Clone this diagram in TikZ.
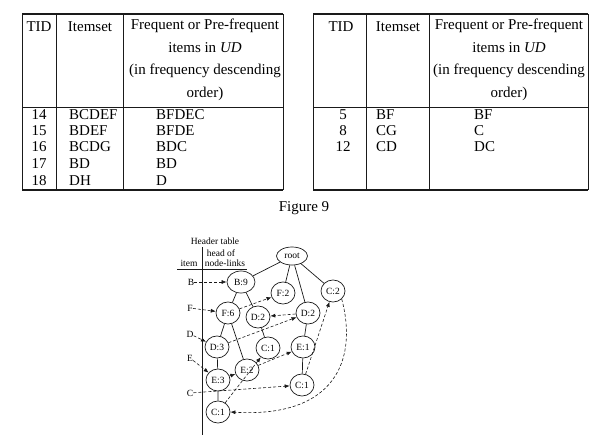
\documentclass[tikz,border=0pt]{standalone}
\usepackage{fontspec}
\setmainfont{Liberation Serif}
\usepackage{tikz}
\usetikzlibrary{arrows.meta,shapes.geometric}
\definecolor{ink}{HTML}{1A1A1A}
\tikzset{
  rulethick/.style={draw=ink,line width=1.6pt},
  rulethin/.style={draw=ink,line width=0.6pt},
  cell/.style={inner sep=0pt,font=\fontsize{15}{18}\selectfont},
  headcell/.style={inner sep=0pt,align=center,font=\fontsize{15}{22.5}\selectfont},
  fpnode/.style={draw=ink,ellipse,line width=0.7pt,minimum width=24pt,
                 minimum height=22pt,inner sep=0pt,fill=white,
                 font=\fontsize{9.5}{10}\selectfont},
  htext/.style={inner sep=0pt,font=\fontsize{9.5}{11}\selectfont},
  treeedge/.style={draw=ink,line width=0.7pt},
  linkarr/.style={-{Latex[length=5pt,width=4pt]},dashed,line width=0.6pt,
                  draw=ink,dash pattern=on 3pt off 2pt}
}
\begin{document}
\begin{tikzpicture}[x=1pt,y=-1pt]
    \path[use as bounding box,fill=white] (0,0) rectangle (597,441);
    % left table
    \draw[rulethin] (22,14) -- (22,190) (56,14) -- (56,190) (123,14) -- (123,190)
      (283,14) -- (283,190) (22,107) -- (283,107);
    \draw[rulethick] (22,14) -- (283,14) (22,190) -- (283,190);
    \node[cell] (ltid) at (39,27) {TID};
    \node[cell] (litem) at (90,27) {Itemset};
    \node[headcell,anchor=north] (lfreq) at (205,19)
      {Frequent or Pre-frequent\\items in \textit{UD}\\(in frequency descending\\order)};
    \node[cell] (lt14) at (39,115) {14};
    \node[cell] (lt15) at (39,131) {15};
    \node[cell] (lt16) at (39,147) {16};
    \node[cell] (lt17) at (39,164) {17};
    \node[cell] (lt18) at (39,181) {18};
    \node[cell,anchor=west] (li14) at (69,115) {BCDEF};
    \node[cell,anchor=west] (li15) at (69,131) {BDEF};
    \node[cell,anchor=west] (li16) at (69,147) {BCDG};
    \node[cell,anchor=west] (li17) at (69,164) {BD};
    \node[cell,anchor=west] (li18) at (69,181) {DH};
    \node[cell,anchor=west] (lf14) at (156,115) {BFDEC};
    \node[cell,anchor=west] (lf15) at (156,131) {BFDE};
    \node[cell,anchor=west] (lf16) at (156,147) {BDC};
    \node[cell,anchor=west] (lf17) at (156,164) {BD};
    \node[cell,anchor=west] (lf18) at (156,181) {D};
    % right table
    \draw[rulethin] (313,14) -- (313,190) (366,14) -- (366,190) (429,14) -- (429,190)
      (588,14) -- (588,190) (313,107) -- (588,107);
    \draw[rulethick] (313,14) -- (588,14) (313,190) -- (588,190);
    \node[cell] (rtid) at (341,27) {TID};
    \node[cell] (ritem) at (398,27) {Itemset};
    \node[headcell,anchor=north] (rfreq) at (509,19)
      {Frequent or Pre-frequent\\items in \textit{UD}\\(in frequency descending\\order)};
    \node[cell] (rt5) at (343,115) {5};
    \node[cell] (rt8) at (343,131) {8};
    \node[cell] (rt12) at (343,147) {12};
    \node[cell,anchor=west] (ri5) at (376,115) {BF};
    \node[cell,anchor=west] (ri8) at (376,131) {CG};
    \node[cell,anchor=west] (ri12) at (376,147) {CD};
    \node[cell,anchor=west] (rf5) at (474,115) {BF};
    \node[cell,anchor=west] (rf8) at (474,131) {C};
    \node[cell,anchor=west] (rf12) at (474,147) {DC};
    \node[cell] (caption) at (304,208) {Figure 9};
    % header table of the tree
    \draw[rulethin] (202,247) -- (202,435) (177,269) -- (247,269);
    \node[htext] (hhead) at (215,241) {Header table};
    \node[htext] (hof) at (221,253) {head of};
    \node[htext] (hitem) at (189,263) {item};
    \node[htext] (hlinks) at (225,263) {node-links};
    \node[htext] (hb) at (191,282) {B};
    \node[htext] (hf) at (190,308) {F};
    \node[htext] (hd) at (190,334) {D};
    \node[htext] (he) at (190,358) {E};
    \node[htext] (hc) at (190,393) {C};
    % tree nodes
    \node[fpnode,minimum width=31pt,minimum height=18pt] (root) at (292,256) {root};
    \node[fpnode,minimum width=28pt] (b9) at (241,282) {B:9};
    \node[fpnode] (f2) at (283,293) {F:2};
    \node[fpnode] (c2) at (333,291) {C:2};
    \node[fpnode] (f6) at (228,313) {F:6};
    \node[fpnode] (d2a) at (258,317) {D:2};
    \node[fpnode] (d2b) at (308,313) {D:2};
    \node[fpnode] (d3) at (217,347) {D:3};
    \node[fpnode] (c1a) at (268,348) {C:1};
    \node[fpnode] (e1) at (303,347) {E:1};
    \node[fpnode] (e2) at (247,370) {E:2};
    \node[fpnode] (e3) at (218,380) {E:3};
    \node[fpnode] (c1b) at (302,385) {C:1};
    \node[fpnode] (c1c) at (218,412) {C:1};
    \draw[treeedge] (root) -- (b9) (root) -- (f2) (root) -- (d2b) (root) -- (c2)
      (b9) -- (f6) (b9) -- (d2a) (f6) -- (d3) (f6) -- (e2) (d2a) -- (c1a)
      (d2b) -- (e1) (e1) -- (c1b) (d3) -- (e3) (e3) -- (c1c);
    % node-links
    \draw[linkarr] (hb) -- (b9);
    \draw[linkarr] (hf) -- (f6);
    \draw[linkarr] (f6) -- (f2);
    \draw[linkarr] (hd) -- (d3);
    \draw[linkarr] (d3) -- (d2b);
    \draw[linkarr] (d2b) -- (d2a);
    \draw[linkarr] (he) -- (e3);
    \draw[linkarr] (e3) -- (e2);
    \draw[linkarr] (e2) -- (e1);
    \draw[linkarr] (hc) -- (c1b);
    \draw[linkarr] (c1c) -- (c1a);
    \draw[linkarr] (c1b) -- (c2);
    \draw[linkarr] (c2.south east) .. controls (358,360) and (335,418) .. (c1c.east);
  \end{tikzpicture}
\end{document}
